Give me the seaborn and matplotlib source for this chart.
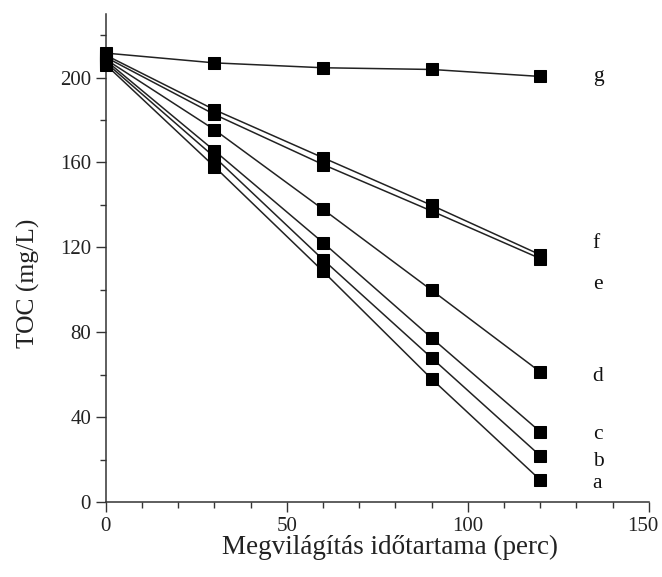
import matplotlib
matplotlib.use("Agg")
import matplotlib.pyplot as plt
import matplotlib.transforms as mtransforms
import seaborn as sns
import pandas as pd

times = [0, 30, 60, 90, 120]
series_names = ["a", "b", "c", "d", "e", "f", "g"]
toc_a = [206, 158, 108.7, 58.0, 10.4]
toc_b = [207, 162.5, 114.2, 67.9, 21.8]
toc_c = [208, 165.5, 122.2, 77.3, 33.1]
toc_d = [208.5, 175.4, 137.9, 99.8, 61.3]
toc_e = [209.5, 182.6, 159.0, 137.1, 114.7]
toc_f = [210.5, 184.8, 162.2, 139.8, 116.5]
toc_g = [211.5, 206.9, 204.6, 203.8, 200.5]
label_y = [8.5, 19.3, 32, 59, 102.5, 121.8, 200.5]
label_x = 134.5
x_major = [0, 50, 100, 150]
x_minor = [10, 20, 30, 40, 60, 70, 80, 90, 110, 120, 130, 140]
y_major = [0, 40, 80, 120, 160, 200]
y_minor = [20, 60, 100, 140, 180, 220]

all_vals = [toc_a, toc_b, toc_c, toc_d, toc_e, toc_f, toc_g]
rows = []
for name, vals in zip(series_names, all_vals):
    for t, v in zip(times, vals):
        rows.append({"series": name, "time": t, "toc": v})
df = pd.DataFrame(rows)

sns.set_style("ticks")
plt.rcParams["font.family"] = ["Liberation Serif", "DejaVu Serif"]

fig = plt.figure(figsize=(6.62, 5.77), dpi=100)
ax = fig.add_axes([0.160, 0.130, 0.820, 0.846])

sns.lineplot(data=df, x="time", y="toc", units="series", estimator=None,
             color="#222222", linewidth=1.1, marker="s", markersize=8,
             markerfacecolor="black", markeredgecolor="black",
             ax=ax, clip_on=False, zorder=3)

for name, ly in zip(series_names, label_y):
    ax.text(label_x, ly, name, fontsize=15.5, ha="left", va="center", color="#111111")

ax.set_xlim(0, 150)
ax.set_ylim(0, 230)
ax.set_xticks(x_major)
ax.set_xticks(x_minor, minor=True)
ax.set_yticks(y_major)
ax.set_yticks(y_minor, minor=True)
ax.tick_params(axis="both", which="major", direction="out", length=7, width=1,
               labelsize=15, colors="#333333", labelcolor="#222222")
ax.tick_params(axis="both", which="minor", direction="out", length=4, width=1,
               colors="#333333")
ax.tick_params(axis="x", which="major", pad=4)
ax.tick_params(axis="y", which="major", pad=3.7)
sns.despine(ax=ax)
for s in ["left", "bottom"]:
    ax.spines[s].set_linewidth(1.1)
    ax.spines[s].set_color("#333333")

# nudge the last x tick label left so it stays inside the figure
last = ax.xaxis.get_major_ticks()[len(x_major) - 1]
last.label1.set_transform(last.label1.get_transform() +
                          mtransforms.ScaledTranslation(-4 / 72, 0, fig.dpi_scale_trans))

ax.set_xlabel("Megvilágítás időtartama (perc)", fontsize=19.5, color="#222222")
ax.set_ylabel("TOC (mg/L)", fontsize=18.4, color="#222222")
ax.xaxis.set_label_coords(0.523, -0.0665)
ax.yaxis.set_label_coords(-0.122, 0.447)

fig.savefig("out.png", dpi=100)
